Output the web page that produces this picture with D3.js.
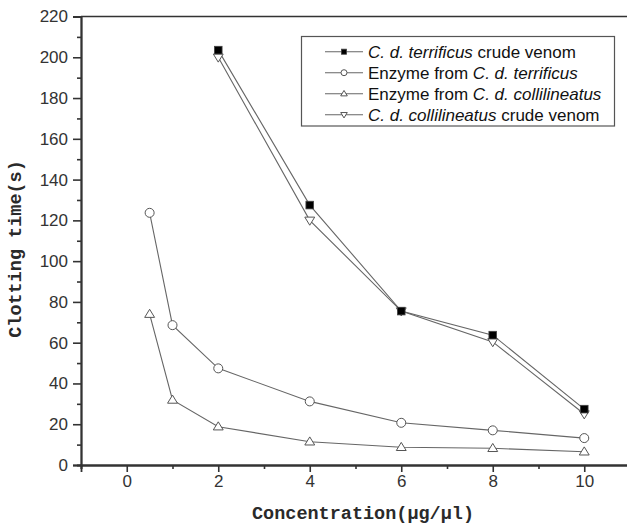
<!DOCTYPE html>
<html><head><meta charset="utf-8">
<script src="https://cdn.jsdelivr.net/npm/d3@7/dist/d3.min.js"></script>
<style>body{margin:0;background:#fff;} svg{display:block;}</style>
</head><body>
<svg id="c" width="627" height="526"></svg>
<script>
// Data
const xTerrificusCrude = [2, 4, 6, 8, 10];
const yTerrificusCrude = [203.5, 127.5, 75.5, 63.7, 27.4];
const xCollCrude = [2, 4, 6, 8, 10];
const yCollCrude = [200, 120, 75.5, 60.4, 25];
const xEnzTerr = [0.5, 1, 2, 4, 6, 8, 10];
const yEnzTerr = [123.7, 68.6, 47.4, 31.2, 20.7, 17, 13.2];
const xEnzColl = [0.5, 1, 2, 4, 6, 8, 10];
const yEnzColl = [74, 31.9, 18.8, 11.4, 8.7, 8.2, 6.5];
const xTicks = [0, 2, 4, 6, 8, 10];
const yTicks = [0, 20, 40, 60, 80, 100, 120, 140, 160, 180, 200, 220];
const xMinor = [-1, 1, 3, 5, 7, 9, 11];
const yMinor = [10, 30, 50, 70, 90, 110, 130, 150, 170, 190, 210];
const legendLabels = [
  [["C. d. terrificus", true], [" crude venom", false]],
  [["Enzyme from ", false], ["C. d. terrificus", true]],
  [["Enzyme from ", false], ["C. d. collilineatus", true]],
  [["C. d. collilineatus", true], [" crude venom", false]]
];
const xTitle = "Concentration(\u03bcg/\u03bcl)";
const yTitle = "Clotting time(s)";

const svg = d3.select("#c");
const x = d3.scaleLinear().domain([-1, 11]).range([81, 630]);
const y = d3.scaleLinear().domain([0, 220]).range([465, 16.5]);
const axisColor = "#333";
const lineColor = "#666";

// frame top line
svg.append("line").attr("x1", x(-1)).attr("x2", x(11)).attr("y1", y(220)).attr("y2", y(220))
  .attr("stroke", axisColor).attr("stroke-width", 1.6);

// axes
const gx = svg.append("g").attr("transform", `translate(0,${y(0)})`)
  .call(d3.axisBottom(x).tickValues(xTicks).tickSize(7).tickPadding(3).tickFormat(d3.format("d")));
const gxm = svg.append("g").attr("transform", `translate(0,${y(0)})`)
  .call(d3.axisBottom(x).tickValues(xMinor).tickSize(4).tickFormat(""));
const gy = svg.append("g").attr("transform", `translate(${x(-1)},0)`)
  .call(d3.axisLeft(y).tickValues(yTicks).tickSize(8).tickPadding(5).tickFormat(d3.format("d")));
const gym = svg.append("g").attr("transform", `translate(${x(-1)},0)`)
  .call(d3.axisLeft(y).tickValues(yMinor).tickSize(4).tickFormat(""));
[gx, gxm, gy, gym].forEach(g => {
  g.select(".domain").attr("stroke", axisColor).attr("stroke-width", 1.8);
  g.selectAll(".tick line").attr("stroke", axisColor).attr("stroke-width", 1.6);
  g.selectAll("text").attr("fill", "#333").style("font-family", "Liberation Sans, Arial, sans-serif").style("font-size", "17px");
});

// titles
svg.append("text").attr("x", 363).attr("y", 519).attr("text-anchor", "middle")
  .style("font-family", "Liberation Mono, Courier New, monospace").style("font-weight", "bold")
  .style("font-size", "18.5px").attr("fill", "#2a2a2a").text(xTitle);
svg.append("text").attr("transform", "translate(21,249) rotate(-90)").attr("text-anchor", "middle")
  .style("font-family", "Liberation Mono, Courier New, monospace").style("font-weight", "bold")
  .style("font-size", "18.5px").attr("fill", "#2a2a2a").text(yTitle);

// series
const series = [
  {xs: xTerrificusCrude, ys: yTerrificusCrude, m: "square"},
  {xs: xEnzTerr, ys: yEnzTerr, m: "circle"},
  {xs: xEnzColl, ys: yEnzColl, m: "up"},
  {xs: xCollCrude, ys: yCollCrude, m: "down"}
];
const line = d3.line().x(d => x(d[0])).y(d => y(d[1]));
function marker(g, type, cx, cy, s) {
  if (type === "square") {
    const q = s * 0.85;
    g.append("rect").attr("x", cx - q/2).attr("y", cy - q/2).attr("width", q).attr("height", q)
      .attr("fill", "#000").attr("stroke", "#444").attr("stroke-width", 0.8);
  } else if (type === "circle") {
    g.append("circle").attr("cx", cx).attr("cy", cy).attr("r", s/2)
      .attr("fill", "#fff").attr("stroke", "#555").attr("stroke-width", 1);
  } else {
    const h = s * 0.9, w = s * 1.1;
    const pts = type === "up"
      ? [[cx, cy - h*0.6], [cx + w/2, cy + h*0.4], [cx - w/2, cy + h*0.4]]
      : [[cx, cy + h*0.6], [cx + w/2, cy - h*0.4], [cx - w/2, cy - h*0.4]];
    g.append("polygon").attr("points", pts.map(p => p.join(",")).join(" "))
      .attr("fill", "#fff").attr("stroke", "#555").attr("stroke-width", 1);
  }
}
series.forEach(s => {
  const data = s.xs.map((v, i) => [v, s.ys[i]]);
  svg.append("path").datum(data).attr("d", line).attr("fill", "none")
    .attr("stroke", lineColor).attr("stroke-width", 1.1);
});
series.slice().reverse().forEach(s => {
  const g = svg.append("g");
  s.xs.forEach((v, i) => marker(g, s.m, x(v), y(s.ys[i]), 9));
});

// legend
const lg = svg.append("g");
lg.append("rect").attr("x", 301.5).attr("y", 36.5).attr("width", 313).attr("height", 89.5)
  .attr("fill", "#fff").attr("stroke", "#555").attr("stroke-width", 1.2);
series.forEach((s, i) => {
  const ly = 51.7 + i * 21;
  lg.append("line").attr("x1", 325).attr("x2", 363).attr("y1", ly).attr("y2", ly)
    .attr("stroke", lineColor).attr("stroke-width", 1.1);
  marker(lg, s.m, 344, ly, 6);
  const t = lg.append("text").attr("x", 368).attr("y", ly + 6)
    .style("font-family", "Liberation Sans, Arial, sans-serif").style("font-size", "17px").attr("fill", "#111");
  legendLabels[i].forEach(([txt, it]) => {
    t.append("tspan").style("font-style", it ? "italic" : "normal").text(txt);
  });
});
</script>
</body></html>
